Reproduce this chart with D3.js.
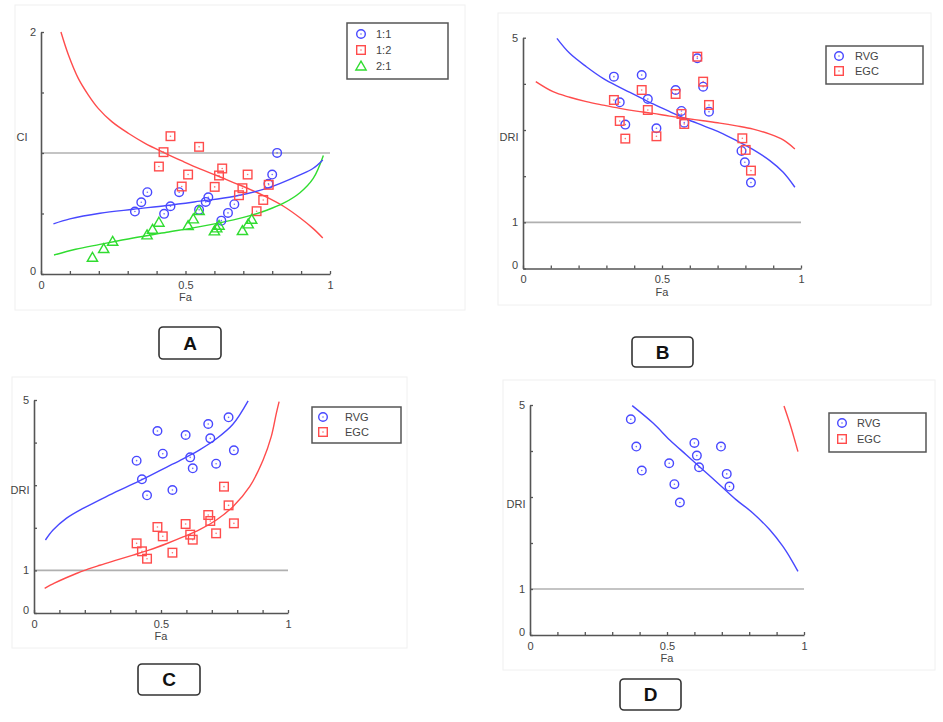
<!DOCTYPE html>
<html><head><meta charset="utf-8">
<script src="https://cdn.jsdelivr.net/npm/d3@7"></script>
<style>
html,body{margin:0;padding:0;background:#fff;}
svg{display:block;font-family:"Liberation Sans",Arial,sans-serif;}
</style></head>
<body>
<svg id="c" width="943" height="722"></svg>
<script>
// ---------- DATA ----------
// Panel A: CI vs Fa
const A_fa_11 = [0.325,0.347,0.368,0.426,0.448,0.478,0.547,0.570,0.579,0.624,0.647,0.669,0.787,0.800,0.817];
const A_ci_11 = [0.516,0.593,0.676,0.497,0.560,0.676,0.530,0.596,0.634,0.441,0.505,0.577,0.745,0.822,1.001];
const A_fa_12 = [0.448,0.547,0.424,0.408,0.509,0.487,0.627,0.616,0.601,0.715,0.697,0.685,0.788,0.769,0.746];
const A_ci_12 = [1.139,1.051,1.007,0.888,0.822,0.723,0.872,0.814,0.720,0.822,0.709,0.651,0.737,0.612,0.519];
const A_fa_21 = [0.178,0.217,0.248,0.367,0.386,0.408,0.509,0.527,0.547,0.600,0.608,0.616,0.697,0.717,0.729];
const A_ci_21 = [0.138,0.210,0.270,0.323,0.370,0.428,0.400,0.455,0.524,0.356,0.381,0.403,0.359,0.414,0.452];
const A_cfa_11 = [0.043,0.100,0.204,0.319,0.435,0.550,0.666,0.781,0.896,0.942,0.975];
const A_cci_11 = [0.414,0.455,0.502,0.535,0.566,0.602,0.640,0.707,0.819,0.874,0.943];
const A_cfa_12 = [0.069,0.095,0.129,0.164,0.198,0.245,0.302,0.360,0.423,0.492,0.550,0.608,0.666,0.723,0.781,0.839,0.896,0.942,0.975];
const A_cci_12 = [2.0,1.81,1.617,1.479,1.369,1.259,1.163,1.080,1.006,0.930,0.869,0.814,0.756,0.700,0.635,0.560,0.465,0.375,0.298];
const A_cfa_21 = [0.045,0.120,0.204,0.319,0.435,0.550,0.666,0.723,0.781,0.839,0.896,0.942,0.977];
const A_cci_21 = [0.157,0.205,0.245,0.298,0.345,0.392,0.447,0.482,0.527,0.585,0.672,0.790,0.980];
const A_legend = ["1:1","1:2","2:1"];

// Panel B: DRI vs Fa
const B_fa_rvg = [0.327,0.427,0.348,0.449,0.368,0.480,0.549,0.570,0.580,0.627,0.648,0.669,0.786,0.798,0.820];
const B_dri_rvg = [4.156,4.192,3.600,3.672,3.117,3.037,3.867,3.413,3.160,4.553,3.939,3.398,2.547,2.302,1.861];
const B_fa_egc = [0.327,0.427,0.348,0.449,0.368,0.480,0.549,0.570,0.580,0.627,0.648,0.669,0.789,0.801,0.820];
const B_dri_egc = [3.651,3.867,3.196,3.434,2.814,2.864,3.781,3.348,3.131,4.589,4.048,3.543,2.821,2.569,2.121];
const B_cfa_rvg = [0.122,0.168,0.228,0.288,0.348,0.408,0.468,0.528,0.588,0.648,0.708,0.768,0.828,0.888,0.936,0.978];
const B_cdri_rvg = [4.986,4.661,4.372,4.120,3.925,3.745,3.564,3.398,3.239,3.095,2.951,2.771,2.576,2.338,2.085,1.760];
const B_cfa_egc = [0.046,0.108,0.168,0.228,0.288,0.348,0.408,0.468,0.528,0.588,0.648,0.708,0.768,0.828,0.888,0.936,0.978];
const B_cdri_egc = [4.048,3.830,3.710,3.615,3.540,3.470,3.410,3.360,3.300,3.250,3.200,3.150,3.090,3.020,2.910,2.785,2.590];

// Panel C
const C_fa_rvg = [0.404,0.425,0.445,0.486,0.507,0.545,0.597,0.615,0.625,0.686,0.694,0.717,0.766,0.787];
const C_dri_rvg = [3.576,3.138,2.762,4.272,3.740,2.887,4.178,3.654,3.396,4.437,4.100,3.505,4.593,3.818];
const C_fa_egc = [0.404,0.425,0.445,0.486,0.507,0.545,0.597,0.615,0.625,0.686,0.694,0.717,0.748,0.766,0.787];
const C_dri_egc = [1.635,1.448,1.275,2.019,1.800,1.416,2.089,1.839,1.721,2.300,2.160,1.870,2.966,2.527,2.105];
const C_cfa_rvg = [0.045,0.075,0.127,0.193,0.259,0.324,0.390,0.455,0.521,0.587,0.652,0.718,0.783,0.843];
const C_cdri_rvg = [1.714,1.948,2.222,2.457,2.653,2.848,3.030,3.220,3.420,3.620,3.830,4.090,4.430,4.980];
const C_cfa_egc = [0.042,0.080,0.120,0.160,0.193,0.259,0.324,0.390,0.455,0.521,0.587,0.652,0.718,0.783,0.849,0.902,0.934,0.954,0.965];
const C_cdri_egc = [0.579,0.700,0.810,0.910,0.990,1.120,1.240,1.360,1.480,1.625,1.785,1.955,2.183,2.496,2.966,3.592,4.139,4.687,4.961];

// Panel D
const D_fa_rvg = [0.368,0.388,0.408,0.508,0.527,0.547,0.600,0.609,0.617,0.697,0.718,0.728];
const D_dri_rvg = [4.689,4.096,3.575,3.734,3.278,2.880,4.175,3.900,3.647,4.096,3.502,3.227];
const D_cfa_rvg = [0.373,0.450,0.510,0.571,0.632,0.693,0.753,0.814,0.875,0.923,0.954,0.978];
const D_cdri_rvg = [4.986,4.602,4.240,3.914,3.589,3.263,2.938,2.648,2.287,1.925,1.635,1.382];
const D_cfa_egc = [0.927,0.948,0.966,0.978];
const D_cdri_egc = [4.978,4.602,4.240,3.987];

const DRI_legend = ["RVG","EGC"];
const xTicks = [0,0.1,0.2,0.3,0.4,0.5,0.6,0.7,0.8,0.9,1];
const xTickLabels = [0,0.5,1];
const A_yTicks = [0,0.5,1,1.5,2];
const A_yTickLabels = [0,2];
const DRI_yTicks = [0,1,2,3,4,5];
const DRI_yTickLabels = [0,1,5];
const panelLetters = ["A","B","C","D"];

// ---------- STYLE ----------
const BLUE="#4848ff", RED="#ff4c4c", GREEN="#30dc30", AXIS="#555", TXT="#444";
const svg = d3.select("#c");
const zip = (a,b) => a.map((v,i)=>[v,b[i]]);

function marker(g, type, x, y, color){
  if(type==="circle"){
    g.append("circle").attr("cx",x).attr("cy",y).attr("r",4.3).attr("fill","none").attr("stroke",color).attr("stroke-width",1.4);
    g.append("circle").attr("cx",x).attr("cy",y).attr("r",0.8).attr("fill",color).attr("opacity",0.8);
  } else if(type==="square"){
    g.append("rect").attr("x",x-4.3).attr("y",y-4.3).attr("width",8.6).attr("height",8.6).attr("fill","none").attr("stroke",color).attr("stroke-width",1.4);
    g.append("circle").attr("cx",x).attr("cy",y).attr("r",0.8).attr("fill",color).attr("opacity",0.8);
  } else {
    g.append("path").attr("transform",`translate(${x},${y+1})`)
      .attr("d",d3.symbol(d3.symbolTriangle,46)()).attr("fill","none").attr("stroke",color).attr("stroke-width",1.4);
  }
}

function panel(cfg){
  const g = svg.append("g");
  g.append("rect").attr("x",cfg.bg[0]).attr("y",cfg.bg[1]).attr("width",cfg.bg[2]-cfg.bg[0]).attr("height",cfg.bg[3]-cfg.bg[1])
    .attr("fill","#fff").attr("stroke","#f0f0f0").attr("stroke-width",1);
  const x = d3.scaleLinear().domain([0,1]).range([cfg.left,cfg.right]);
  const y = d3.scaleLinear().domain([0,cfg.ymax]).range([cfg.bottom,cfg.top]);
  // reference line
  g.append("line").attr("x1",x(0)).attr("x2",x(1)).attr("y1",y(1)).attr("y2",y(1))
    .attr("stroke","#b0b0b0").attr("stroke-width",1.6);
  // axes
  const fmt = labels => d => labels.some(l=>Math.abs(l-d)<1e-6) ? d3.format("~g")(d) : "";
  const xa = g.append("g").attr("transform",`translate(0,${cfg.bottom})`)
    .call(d3.axisBottom(x).tickValues(xTicks).tickSize(-3).tickSizeOuter(0).tickPadding(7).tickFormat(fmt(xTickLabels)));
  const ya = g.append("g").attr("transform",`translate(${cfg.left},0)`)
    .call(d3.axisLeft(y).tickValues(cfg.yTicks).tickSize(-3).tickSizeOuter(0).tickPadding(5).tickFormat(fmt(cfg.yLabels)));
  [xa,ya].forEach(a=>{
    a.select(".domain").attr("stroke",AXIS).attr("stroke-width",1.6);
    a.selectAll(".tick line").attr("stroke",AXIS).attr("stroke-width",1.3);
    a.selectAll(".tick text").attr("fill",TXT).attr("font-size",11).attr("font-family","Liberation Sans, Arial, sans-serif");
  });
  ya.selectAll(".tick text").filter(d=>d===0).attr("dy","0.0em");
  // axis labels
  g.append("text").attr("x",(cfg.left+cfg.right)/2).attr("y",cfg.bottom+27).attr("text-anchor","middle")
    .attr("font-size",11).attr("fill",TXT).text("Fa");
  g.append("text").attr("x",cfg.left-cfg.ylabOff).attr("y",(cfg.top+cfg.bottom)/2-16).attr("dy","0.35em").attr("text-anchor","middle")
    .attr("font-size",11).attr("fill",TXT).text(cfg.ylab);
  // curves
  const line = d3.line().x(d=>x(d[0])).y(d=>y(d[1])).curve(d3.curveCatmullRom.alpha(0.5));
  cfg.curves.forEach(c=>{
    g.append("path").attr("d",line(zip(c.fa,c.v))).attr("fill","none").attr("stroke",c.color).attr("stroke-width",1.4);
  });
  // points
  cfg.series.forEach(s=>{
    zip(s.fa,s.v).forEach(p=>marker(g,s.type,x(p[0]),y(p[1]),s.color));
  });
  // legend
  const L = cfg.legend;
  g.append("rect").attr("x",L.box[0]).attr("y",L.box[1]).attr("width",L.box[2]-L.box[0]).attr("height",L.box[3]-L.box[1])
    .attr("fill","#fff").attr("stroke","#555").attr("stroke-width",1.5);
  L.items.forEach((it,i)=>{
    const yy = L.y0 + i*L.dy;
    marker(g,it.type,L.mx,yy,it.color);
    g.append("text").attr("x",L.tx).attr("y",yy).attr("dy","0.35em").attr("font-size",11).attr("fill",TXT).text(it.label);
  });
  // letter box
  const B = cfg.letter;
  g.append("rect").attr("x",B.box[0]).attr("y",B.box[1]).attr("width",B.box[2]-B.box[0]).attr("height",B.box[3]-B.box[1])
    .attr("rx",4).attr("fill","#fff").attr("stroke","#333").attr("stroke-width",1.6);
  g.append("text").attr("x",(B.box[0]+B.box[2])/2).attr("y",(B.box[1]+B.box[3])/2).attr("dy","0.36em")
    .attr("text-anchor","middle").attr("font-size",19).attr("font-weight","bold").attr("fill","#111").text(B.text);
}

const driItems = [{type:"circle",color:BLUE,label:DRI_legend[0]},{type:"square",color:RED,label:DRI_legend[1]}];

panel({bg:[15,5,465,310], left:41,right:330,top:32,bottom:274, ymax:2, yTicks:A_yTicks, yLabels:A_yTickLabels, ylab:"CI", ylabOff:19,
  curves:[{fa:A_cfa_12,v:A_cci_12,color:RED},{fa:A_cfa_21,v:A_cci_21,color:GREEN},{fa:A_cfa_11,v:A_cci_11,color:BLUE}],
  series:[{fa:A_fa_11,v:A_ci_11,type:"circle",color:BLUE},{fa:A_fa_12,v:A_ci_12,type:"square",color:RED},{fa:A_fa_21,v:A_ci_21,type:"triangle",color:GREEN}],
  legend:{box:[347,23,448,79], mx:361, tx:376, y0:34, dy:16,
    items:[{type:"circle",color:BLUE,label:A_legend[0]},{type:"square",color:RED,label:A_legend[1]},{type:"triangle",color:GREEN,label:A_legend[2]}]},
  letter:{box:[159,327,221,359], text:panelLetters[0]}});

panel({bg:[498,13,931,305], left:523,right:801,top:37.7,bottom:268.5, ymax:5, yTicks:DRI_yTicks, yLabels:DRI_yTickLabels, ylab:"DRI", ylabOff:14,
  curves:[{fa:B_cfa_rvg,v:B_cdri_rvg,color:BLUE},{fa:B_cfa_egc,v:B_cdri_egc,color:RED}],
  series:[{fa:B_fa_rvg,v:B_dri_rvg,type:"circle",color:BLUE},{fa:B_fa_egc,v:B_dri_egc,type:"square",color:RED}],
  legend:{box:[826,46,923,84], mx:839, tx:855, y0:56, dy:15, items:driItems},
  letter:{box:[632,337,693,367], text:panelLetters[1]}});

panel({bg:[12,377,407,648], left:34,right:288,top:400,bottom:613, ymax:5, yTicks:DRI_yTicks, yLabels:DRI_yTickLabels, ylab:"DRI", ylabOff:14,
  curves:[{fa:C_cfa_rvg,v:C_cdri_rvg,color:BLUE},{fa:C_cfa_egc,v:C_cdri_egc,color:RED}],
  series:[{fa:C_fa_rvg,v:C_dri_rvg,type:"circle",color:BLUE},{fa:C_fa_egc,v:C_dri_egc,type:"square",color:RED}],
  legend:{box:[312,407,401,443], mx:323, tx:345, y0:417, dy:15, items:driItems},
  letter:{box:[138,664,200,695], text:panelLetters[2]}});

panel({bg:[503,380,935,670], left:530,right:804,top:405,bottom:635, ymax:5, yTicks:DRI_yTicks, yLabels:DRI_yTickLabels, ylab:"DRI", ylabOff:14,
  curves:[{fa:D_cfa_rvg,v:D_cdri_rvg,color:BLUE},{fa:D_cfa_egc,v:D_cdri_egc,color:RED}],
  series:[{fa:D_fa_rvg,v:D_dri_rvg,type:"circle",color:BLUE}],
  legend:{box:[829,413,926,452], mx:842, tx:857, y0:423, dy:16, items:driItems},
  letter:{box:[620,679,681,710], text:panelLetters[3]}});
</script>
</body></html>
